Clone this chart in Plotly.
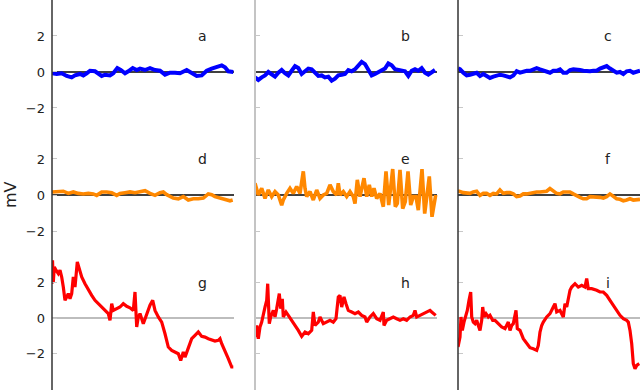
import plotly.graph_objects as go

# ---------------- data (time in samples, values in mV) ----------------
t_a = [0, 4.7, 9.7, 14.7, 19.7, 23, 28, 31.3, 34.7, 38, 43, 46.3, 49.7, 53, 58, 61.3, 65.3, 68.7, 73, 76.3,
       80.7, 84.7, 88, 93, 98, 103, 108, 113, 118, 123, 128, 134.7, 139.7, 144.7, 149.7, 154.7, 159.7, 164.7,
       169.7, 173, 176.3, 181.3]
v_a = [-0.07, -0.11, -0.07, -0.22, -0.30, -0.19, -0.11, -0.19, -0.07, 0.07, 0.04, -0.11, -0.22, -0.15, -0.19,
       -0.07, 0.22, 0.11, -0.07, 0.04, 0.22, 0.11, 0.19, 0.11, 0.22, 0.11, 0.07, -0.15, -0.04, -0.04, -0.07, 0.11,
       -0.04, -0.22, -0.19, 0.07, 0.19, 0.26, 0.37, 0.26, 0.04, 0.0]

t_b = [round(i * 10 / 3, 2) for i in range(55)]
v_b = [-0.30, -0.44, -0.30, -0.19, 0.0, -0.15, -0.26, -0.04, 0.11, -0.07, -0.19, 0.07, 0.33, 0.22, -0.11, 0.04,
       0.19, 0.15, -0.04, -0.22, -0.19, -0.30, -0.26, -0.48, -0.37, -0.19, -0.15, -0.11, 0.11, 0.04, 0.15, 0.33,
       0.56, 0.44, 0.07, -0.19, -0.11, 0.0, 0.11, 0.19, 0.48, 0.37, 0.15, 0.11, 0.07, 0.04, -0.22, 0.07, 0.15,
       0.07, 0.22, -0.04, -0.15, 0.0, 0.11]

t_c = [0] + [round(2 + i * 10 / 3, 2) for i in range(55)]
v_c = [0.20, 0.15, -0.04, -0.19, -0.15, -0.11, -0.04, -0.22, -0.11, -0.22, -0.33, -0.26, -0.19, -0.15, -0.19,
       -0.22, -0.30, -0.19, 0.04, -0.04, 0.04, 0.07, 0.07, 0.15, 0.22, 0.15, 0.07, 0.04, -0.04, 0.07, 0.07, 0.15,
       -0.04, -0.04, 0.11, 0.15, 0.15, 0.11, 0.07, 0.04, 0.04, 0.07, 0.07, 0.19, 0.26, 0.33, 0.19, 0.04, -0.04,
       0.0, -0.11, 0.04, 0.07, -0.04, 0.04, 0.07]

t_d = [0, 1.3, 6.3, 11.3, 16.3, 21.3, 26.3, 31.3, 36.3, 41.3, 44.7, 49.7, 54.7, 59.7, 64.7, 68, 73, 78, 83, 88,
       93, 98, 103, 108, 111.3, 114.7, 118, 121.3, 126.3, 131.3, 136.3, 141.3, 146.3, 151.3, 156.3, 159.7, 163,
       168, 173, 178, 180.7]
v_d = [0.17, 0.17, 0.17, 0.21, 0.09, 0.17, 0.09, 0.06, 0.09, 0.06, -0.02, 0.17, 0.17, 0.13, -0.02, 0.09, 0.13,
       0.17, 0.13, 0.17, 0.24, 0.09, -0.02, 0.13, 0.17, 0.02, -0.06, -0.17, -0.21, -0.09, -0.28, -0.21, -0.21,
       -0.17, 0.06, 0.02, -0.09, -0.17, -0.24, -0.32, -0.28]

t_e = [0, 3.3, 6.7, 10, 13.3, 16.7, 20, 23.3, 26.7, 28.3, 31.7, 35, 38.3, 41.7, 45, 48.3, 50, 51.7, 55, 58.3,
       61.7, 65, 68.3, 71.7, 75, 78.3, 81.7, 83.3, 85, 88.3, 91.7, 95, 98.3, 100, 102.3, 105, 109, 111.7, 114.3,
       116.7, 119, 121.7, 125, 128.3, 131, 133.7, 137.7, 140.3, 142.3, 145, 147.7, 150.3, 153, 155.7, 158.3, 161,
       163.3, 167, 169.7, 171.7, 174.3, 177, 179, 180.7]
v_e = [0.65, 0.0, 0.37, -0.19, 0.28, -0.09, 0.19, 0.0, -0.56, -0.28, 0.09, 0.37, 0.09, 0.47, 0.09, 1.31, 0.37,
       -0.09, 0.19, -0.28, 0.28, -0.19, 0.0, 0.09, 0.56, 0.19, 0.0, 0.65, 0.0, 0.19, -0.09, 0.19, -0.09, -0.47,
       0.84, -0.09, 0.93, -0.09, 0.56, -0.09, 0.37, -0.19, 0.09, -0.65, 1.31, -0.56, 1.44, -0.65, -0.47, 1.40,
       -0.75, -0.37, 1.31, -0.56, -0.09, -0.09, -0.84, 1.44, -1.03, -0.28, 1.03, -1.21, -0.37, 0.0]

t_f = [0, 1.3] + [round(5.3 + i * 10 / 3, 2) for i in range(54)]
v_f = [0.21, 0.21, 0.13, 0.09, 0.09, 0.17, 0.21, -0.02, 0.09, 0.09, -0.02, 0.09, 0.06, 0.28, 0.09, 0.13, 0.13,
       0.06, -0.09, -0.06, 0.06, 0.06, 0.09, 0.17, 0.17, 0.17, 0.21, 0.21, 0.36, 0.21, 0.09, 0.06, 0.17, 0.17,
       0.17, 0.06, -0.06, -0.13, -0.21, -0.21, -0.09, -0.09, -0.13, -0.13, -0.17, -0.09, 0.06, -0.09, -0.21,
       -0.24, -0.32, -0.28, -0.21, -0.28, -0.24, -0.24]

t_g = [0, 0.5, 1.3, 2.3, 4, 6.3, 8, 9.7, 11.3, 13, 14.7, 16.3, 18, 19.7, 21.3, 23, 25.3, 27.3, 29.7, 33, 36.3,
       39.7, 43, 46.3, 49.7, 53, 56.3, 58, 59.7, 61.3, 64.7, 68, 71.3, 74.7, 78, 81.3, 83, 84.7, 86.3, 88, 91.3,
       94.7, 98, 100.7, 103, 106.3, 109.7, 113, 116.3, 119.7, 123, 126.3, 128.7, 131.3, 133, 136.3, 139.7, 143,
       146.3, 149.7, 153, 156.3, 159.7, 163, 166.3, 168, 169.7, 173, 176.3, 179.7, 181.3]
v_g = [1.94, 3.26, 2.04, 2.89, 2.70, 2.51, 2.70, 2.32, 1.75, 1.00, 1.19, 1.38, 1.09, 1.38, 2.32, 1.75, 3.17,
       2.79, 2.32, 1.94, 1.57, 1.28, 1.00, 0.81, 0.62, 0.43, 0.25, -0.13, 0.81, 0.43, 0.53, 0.62, 0.81, 0.66,
       0.58, 0.43, 1.47, -0.51, 0.06, 0.25, -0.32, 0.25, 0.72, 1.00, 0.43, 0.06, -0.23, -0.89, -1.64, -1.83,
       -1.92, -2.02, -2.40, -1.92, -2.21, -1.64, -1.17, -0.98, -0.79, -1.04, -1.08, -1.17, -1.26, -1.30, -1.26,
       -1.17, -1.45, -1.83, -2.30, -2.77, -2.77]

t_h = [0, 1.7, 3.3, 5, 6.7, 8.3, 10, 11.7, 12.7, 14.3, 15.7, 18.3, 20, 21.7, 24.3, 25.7, 27.3, 28.3, 31, 33.3,
       36.7, 40, 43.3, 46.7, 50, 53.3, 56.7, 58.3, 60, 63.3, 65, 68.3, 71.7, 75, 78.3, 81, 83.3, 85, 86.7, 89,
       91, 93.3, 96.7, 100, 103.3, 106.7, 110, 111.7, 115, 118.3, 121.7, 125, 128.3, 129, 131.7, 135, 138.3,
       141.7, 145, 148.3, 151.7, 155, 158.3, 160, 161.7, 165, 168.3, 171.7, 175, 176.7, 178.3, 180.7]
v_h = [-1.08, -0.42, -1.17, -0.51, -0.23, 0.25, 0.62, 1.00, 1.94, -0.32, 0.06, 0.43, 0.06, 0.53, 1.38, 0.53,
       1.09, 0.06, 0.34, 0.15, -0.13, -0.42, -0.70, -1.04, -0.79, -0.89, -0.70, 0.34, -0.42, -0.23, 0.06, -0.32,
       -0.23, -0.13, -0.23, -0.04, 1.19, 1.28, 0.62, 1.19, 0.81, 0.43, 0.34, 0.25, 0.34, 0.15, 0.06, -0.23,
       0.06, 0.25, -0.04, -0.13, 0.34, -0.42, -0.13, -0.04, 0.06, -0.04, -0.13, -0.04, -0.13, 0.06, 0.15, 0.43,
       0.06, 0.15, 0.25, 0.34, 0.43, 0.34, 0.25, 0.15]

t_i = [0, 2, 3, 4.3, 6, 7.7, 9.3, 11, 12.7, 13.7, 15.3, 17, 18.7, 20.3, 22, 23.7, 24.7, 26, 28, 30.3, 32, 34.7,
       37, 40.3, 43.7, 47, 50.3, 52, 53.7, 55.3, 58, 59.3, 62, 65.3, 68.7, 72, 75.3, 78.7, 80.3, 82, 83.7, 85.3,
       88.7, 92, 95.3, 97, 98.7, 102, 105.3, 107, 108.7, 112, 113.7, 117, 120.3, 123.7, 127, 128.7, 130.3,
       133.7, 138.7, 142, 145.3, 148.7, 152, 155.3, 158.7, 162, 165.3, 168.7, 170.3, 172, 173.7, 175.3, 177,
       178.7, 181.3]
v_i = [-1.64, -1.08, 0.06, -0.70, -0.23, 0.06, 0.43, 1.00, 1.47, 0.06, -0.23, -0.32, -0.13, -0.42, -0.70,
       -0.13, 0.62, 0.06, 0.25, 0.06, 0.15, -0.13, -0.13, -0.32, -0.51, -0.60, -0.23, -0.70, -0.42, -0.32, 0.43,
       -0.60, -0.70, -1.17, -1.45, -1.68, -1.74, -1.83, -1.55, -0.79, -0.42, -0.23, 0.06, 0.25, 0.62, 0.81,
       0.34, 0.43, 0.06, 0.81, 0.62, 1.57, 1.75, 1.94, 1.75, 1.85, 1.75, 2.23, 1.66, 1.66, 1.57, 1.47, 1.47,
       1.28, 1.00, 0.72, 0.43, 0.15, -0.04, -0.13, -0.23, -0.70, -1.45, -2.58, -2.87, -2.68, -2.58]

panel_letters = ["a", "b", "c", "d", "e", "f", "g", "h", "i"]
tick_vals = [-2, 0, 2]
tick_text = ["\u22122", "0", "2"]
y_label = "mV"

series = [(t_a, v_a), (t_b, v_b), (t_c, v_c),
          (t_d, v_d), (t_e, v_e), (t_f, v_f),
          (t_g, v_g), (t_h, v_h), (t_i, v_i)]

# ---------------- styling / layout ----------------
W, H = 640, 390
row_colors = ["#0000ff", "#ff8800", "#ff0000"]
row_widths = [4, 3.6, 3.2]
col_px = [(52, 255), (255, 458), (458, 640)]
col_range = [[0, 203], [0, 203], [0, 182]]
row_px = [(0, 133), (133, 257), (257, 390)]
row_range = [[-3.39, 4.0], [-3.44, 3.44], [-4.07, 3.45]]
zero_colors = ["#000000", "#000000", "#bdbdbd"]
zero_widths = [1.3, 1.3, 2]
FONT = "DejaVu Sans"

fig = go.Figure()
layout = dict(width=W, height=H, margin=dict(l=0, r=0, t=0, b=0),
              paper_bgcolor="white", plot_bgcolor="rgba(0,0,0,0)", showlegend=False,
              font=dict(family=FONT, size=13, color="#222"))
shapes, annotations = [], []

for k, (tx, vy) in enumerate(series):
    r, c = divmod(k, 3)
    sx = "" if k == 0 else str(k + 1)
    xa, ya = "x" + sx, "y" + sx
    fig.add_trace(go.Scatter(x=tx, y=vy, mode="lines", xaxis=xa, yaxis=ya,
                             line=dict(color=row_colors[r], width=row_widths[r]),
                             hoverinfo="skip"))
    layout["xaxis" + sx] = dict(domain=[col_px[c][0] / W, col_px[c][1] / W], range=col_range[c],
                                visible=False, anchor=ya)
    y0, y1 = row_px[r]
    layout["yaxis" + sx] = dict(domain=[1 - y1 / H, 1 - y0 / H], range=row_range[r], anchor=xa,
                                showgrid=False, zeroline=False, showline=False,
                                tickvals=tick_vals if c == 0 else [-2, 2],
                                ticktext=tick_text if c == 0 else ["", ""],
                                showticklabels=(c == 0), ticks="inside", ticklen=5,
                                tickcolor="#c8c8c8", tickwidth=1,
                                ticklabelstandoff=6,
                                tickfont=dict(family=FONT, size=13, color="#222"))
    shapes.append(dict(type="line", xref=xa, yref=ya, x0=0, x1=182, y0=0, y1=0,
                       line=dict(color=zero_colors[r], width=zero_widths[r]), layer="below"))
    annotations.append(dict(xref=xa, yref=ya, x=150, y=2.0, text=panel_letters[k], showarrow=False,
                            xanchor="center", yanchor="middle",
                            font=dict(family=FONT, size=14, color="#222")))

# column axis lines
for (x0, _), colr, wd in zip(col_px, ["#333333", "#c4c4c4", "#333333"], [1.5, 2, 1.5]):
    shapes.append(dict(type="line", xref="paper", yref="paper", x0=x0 / W, x1=x0 / W, y0=0, y1=1,
                       line=dict(color=colr, width=wd), layer="above"))

annotations.append(dict(xref="paper", yref="paper", x=10 / W, y=1 - 195 / H, text=y_label, textangle=-90,
                        showarrow=False, xanchor="center", yanchor="middle",
                        font=dict(family=FONT, size=16, color="#222")))

layout["shapes"] = shapes
layout["annotations"] = annotations
fig.update_layout(**layout)
fig.write_html("out.html", config={"displayModeBar": False},
               post_script="document.body.style.margin='0';document.body.style.overflow='hidden';")
